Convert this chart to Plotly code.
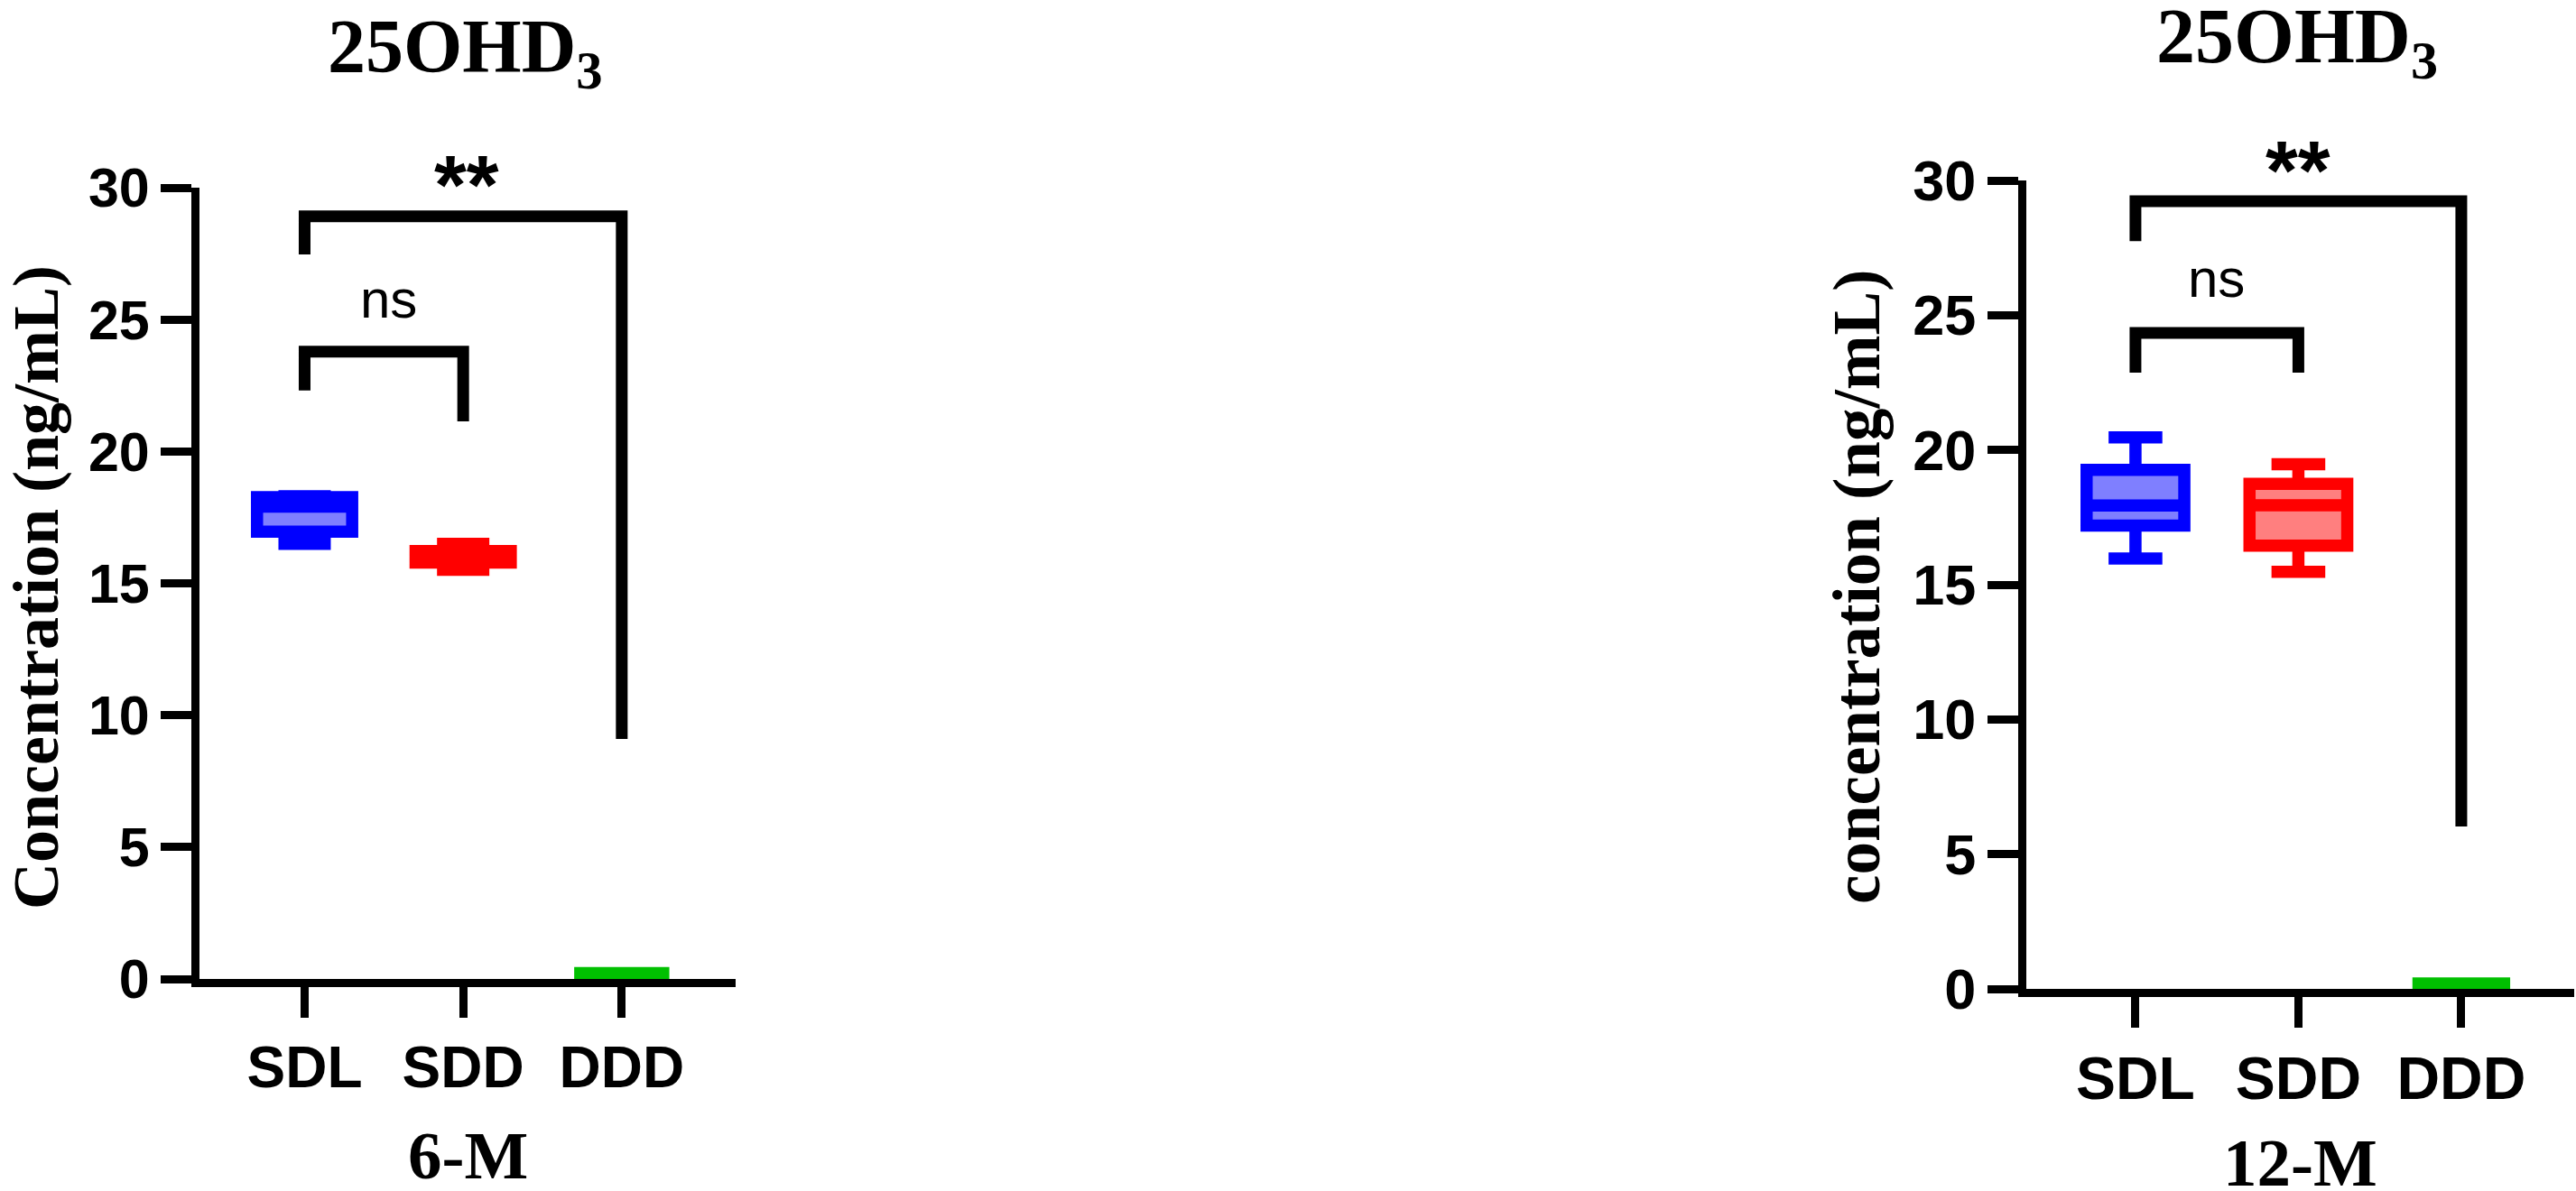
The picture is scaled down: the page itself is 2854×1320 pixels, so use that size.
import plotly.graph_objects as go

W, H = 2854, 1320

categories = ["SDL", "SDD", "DDD"]
colors = ["#0000FF", "#FF0000", "#00C000"]
fills = ["rgba(0,0,255,0.5)", "rgba(255,0,0,0.5)", "rgba(0,192,0,0.5)"]

# 6-M box summaries (ng/mL)
m6_low = [16.50, 15.51, 0.22]
m6_q1 = [16.96, 15.79, 0.22]
m6_median = [17.91, 16.00, 0.22]
m6_q3 = [18.27, 16.22, 0.22]
m6_high = [18.30, 16.50, 0.22]

# 12-M box summaries (ng/mL)
m12_low = [15.97, 15.48, 0.20]
m12_q1 = [17.19, 16.45, 0.20]
m12_median = [17.94, 17.95, 0.20]
m12_q3 = [19.26, 18.74, 0.20]
m12_high = [20.47, 19.47, 0.20]

# significance brackets: x = category index, y = concentration
ns_x = [0, 0, 1, 1]
star_x = [0, 0, 2, 2]
m6_ns_y = [22.31, 23.78, 23.78, 21.14]
m6_star_y = [27.47, 28.91, 28.91, 9.10]
m12_ns_y = [22.87, 24.34, 24.34, 22.87]
m12_star_y = [27.75, 29.23, 29.23, 6.03]

yticks = [0, 5, 10, 15, 20, 25, 30]

SANS = "Liberation Sans"
SERIF = "Liberation Serif"


def px_x(p):
    return p / W


def px_y(p):
    return 1 - p / H


fig = go.Figure()


def add_panel(xa, ya, low, q1, med, q3, high, ns_y, star_y):
    for i in range(len(categories)):
        fig.add_trace(
            go.Box(
                x=[i],
                lowerfence=[low[i]],
                q1=[q1[i]],
                median=[med[i]],
                q3=[q3[i]],
                upperfence=[high[i]],
                width=0.6,
                whiskerwidth=0.55,
                line=dict(color=colors[i], width=13.5),
                fillcolor=fills[i],
                boxpoints=False,
                hoverinfo="skip",
                showlegend=False,
                xaxis=xa,
                yaxis=ya,
            )
        )
    for bx, by in [(ns_x, ns_y), (star_x, star_y)]:
        fig.add_trace(
            go.Scatter(
                x=bx,
                y=by,
                mode="lines",
                line=dict(color="black", width=13),
                hoverinfo="skip",
                showlegend=False,
                xaxis=xa,
                yaxis=ya,
            )
        )


add_panel("x", "y", m6_low, m6_q1, m6_median, m6_q3, m6_high, m6_ns_y, m6_star_y)
add_panel("x2", "y2", m12_low, m12_q1, m12_median, m12_q3, m12_high, m12_ns_y, m12_star_y)

axis_common = dict(
    showline=True,
    linecolor="black",
    linewidth=9,
    ticks="outside",
    ticklen=34,
    tickwidth=9,
    tickcolor="black",
    showgrid=False,
    zeroline=False,
    automargin=False,
)

fig.update_layout(
    width=W,
    height=H,
    margin=dict(l=0, r=0, t=0, b=0, autoexpand=False),
    plot_bgcolor="white",
    paper_bgcolor="white",
    xaxis=dict(
        domain=[px_x(221), px_x(815)],
        range=[-0.663, 2.718],
        tickvals=[0, 1, 2],
        ticktext=categories,
        tickfont=dict(family=SANS, size=64, color="black", weight="bold"),
        anchor="y",
        **axis_common,
    ),
    yaxis=dict(
        domain=[px_y(1085), px_y(208)],
        range=[0, 30],
        tickvals=yticks,
        tickfont=dict(family=SANS, size=61, color="black", weight="bold"),
        anchor="x",
        **axis_common,
    ),
    xaxis2=dict(
        domain=[px_x(2245), px_x(2852)],
        range=[-0.67, 2.693],
        tickvals=[0, 1, 2],
        ticktext=categories,
        tickfont=dict(family=SANS, size=66, color="black", weight="bold"),
        anchor="y2",
        **axis_common,
    ),
    yaxis2=dict(
        domain=[px_y(1096), px_y(200)],
        range=[0, 30],
        tickvals=yticks,
        tickfont=dict(family=SANS, size=63, color="black", weight="bold"),
        anchor="x2",
        **axis_common,
    ),
)

serif_bold = dict(family=SERIF, color="black", weight="bold")
annotations = [
    # panel titles
    dict(text="25OHD<sub>3</sub>", x=px_x(515), y=px_y(58), font=dict(size=84, **serif_bold)),
    dict(text="25OHD<sub>3</sub>", x=px_x(2545), y=px_y(46), font=dict(size=86, **serif_bold)),
    # x titles
    dict(text="6-M", x=px_x(518), y=px_y(1280), font=dict(size=75, **serif_bold)),
    dict(text="12-M", x=px_x(2548), y=px_y(1288), font=dict(size=75, **serif_bold)),
    # y titles
    dict(text="Concentration (ng/mL)", x=px_x(40), y=px_y(651), textangle=-90,
         font=dict(size=72, **serif_bold)),
    dict(text="concentration (ng/mL)", x=px_x(2057), y=px_y(650), textangle=-90,
         font=dict(size=73, **serif_bold)),
    # significance stars above the top brackets
    dict(text="**", x=px_x(517), y=px_y(205), font=dict(family=SANS, size=92, color="black", weight="bold")),
    dict(text="**", x=px_x(2546), y=px_y(189), font=dict(family=SANS, size=92, color="black", weight="bold")),
]
for a in annotations:
    a.update(xref="paper", yref="paper", xanchor="center", yanchor="middle", showarrow=False)
    fig.add_annotation(**a)

# "ns" labels in data coordinates
for xa, ya, nsx, nsy in [("x", "y", 0.532, 25.76), ("x2", "y2", 0.496, 26.38)]:
    fig.add_annotation(text="ns", x=nsx, y=nsy, xref=xa, yref=ya, showarrow=False,
                       font=dict(family=SANS, size=60, color="black"))

fig.write_html(
    "out.html",
    config={"displayModeBar": False},
    post_script="document.body.style.margin='0';",
)
